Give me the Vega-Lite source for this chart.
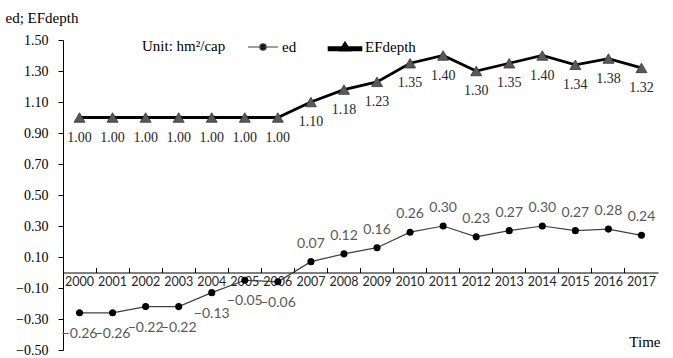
{
  "$schema": "https://vega.github.io/schema/vega-lite/v6.json",
  "width": 595,
  "height": 310,
  "autosize": {"type": "none"},
  "padding": {"left": 63, "top": 40, "right": 15, "bottom": 8},
  "background": "white",
  "config": {"view": {"stroke": null}},
  "data": {"values": [
    {"year": "2000", "series": "ed", "value": -0.26},
    {"year": "2001", "series": "ed", "value": -0.26},
    {"year": "2002", "series": "ed", "value": -0.22},
    {"year": "2003", "series": "ed", "value": -0.22},
    {"year": "2004", "series": "ed", "value": -0.13},
    {"year": "2005", "series": "ed", "value": -0.05},
    {"year": "2006", "series": "ed", "value": -0.06},
    {"year": "2007", "series": "ed", "value": 0.07},
    {"year": "2008", "series": "ed", "value": 0.12},
    {"year": "2009", "series": "ed", "value": 0.16},
    {"year": "2010", "series": "ed", "value": 0.26},
    {"year": "2011", "series": "ed", "value": 0.30},
    {"year": "2012", "series": "ed", "value": 0.23},
    {"year": "2013", "series": "ed", "value": 0.27},
    {"year": "2014", "series": "ed", "value": 0.30},
    {"year": "2015", "series": "ed", "value": 0.27},
    {"year": "2016", "series": "ed", "value": 0.28},
    {"year": "2017", "series": "ed", "value": 0.24},
    {"year": "2000", "series": "EFdepth", "value": 1.00},
    {"year": "2001", "series": "EFdepth", "value": 1.00},
    {"year": "2002", "series": "EFdepth", "value": 1.00},
    {"year": "2003", "series": "EFdepth", "value": 1.00},
    {"year": "2004", "series": "EFdepth", "value": 1.00},
    {"year": "2005", "series": "EFdepth", "value": 1.00},
    {"year": "2006", "series": "EFdepth", "value": 1.00},
    {"year": "2007", "series": "EFdepth", "value": 1.10},
    {"year": "2008", "series": "EFdepth", "value": 1.18},
    {"year": "2009", "series": "EFdepth", "value": 1.23},
    {"year": "2010", "series": "EFdepth", "value": 1.35},
    {"year": "2011", "series": "EFdepth", "value": 1.40},
    {"year": "2012", "series": "EFdepth", "value": 1.30},
    {"year": "2013", "series": "EFdepth", "value": 1.35},
    {"year": "2014", "series": "EFdepth", "value": 1.40},
    {"year": "2015", "series": "EFdepth", "value": 1.34},
    {"year": "2016", "series": "EFdepth", "value": 1.38},
    {"year": "2017", "series": "EFdepth", "value": 1.32}
  ]},
  "encoding": {
    "x": {
      "field": "year", "type": "ordinal",
      "scale": {"type": "band", "paddingInner": 0, "paddingOuter": 0},
      "axis": {
        "title": "Time", "titleFont": "Liberation Serif", "titleFontSize": 15, "titleFontWeight": "normal", "titleColor": "#000",
        "titleX": 597, "titleY": 69, "titleAlign": "right", "titleBaseline": "middle", "titleAnchor": null,
        "offset": -77.5, "bandPosition": 0, "tickExtra": true, "tickSize": -5, "tickColor": "#000", "domainColor": "#000",
        "labelAngle": 0, "labelFont": "Lato", "labelFontSize": 12.5, "labelColor": "#262626", "labelPadding": 8,
        "labelAlign": "center", "labelBaseline": "top", "labelFlush": false, "labelOverlap": false, "grid": false
      }
    },
    "y": {
      "field": "value", "type": "quantitative",
      "scale": {"domain": [-0.5, 1.5], "nice": false, "zero": false},
      "axis": {
        "values": [-0.5, -0.3, -0.1, 0.1, 0.3, 0.5, 0.7, 0.9, 1.1, 1.3, 1.5],
        "format": ".2f", "grid": false, "tickSize": 5, "tickColor": "#000", "domainColor": "#000",
        "labelFont": "Liberation Serif", "labelFontSize": 14, "labelColor": "#000", "labelPadding": 10,
        "title": "ed; EFdepth", "titleAngle": 0, "titleAlign": "left", "titleBaseline": "middle",
        "titleX": -58, "titleY": -23, "titleFont": "Liberation Serif", "titleFontSize": 15,
        "titleFontWeight": "normal", "titleColor": "#000"
      }
    }
  },
  "layer": [
    {
      "mark": {"type": "line"},
      "encoding": {
        "color": {
          "field": "series", "type": "nominal",
          "scale": {"domain": ["ed", "EFdepth"], "range": ["#404040", "#000000"]},
          "legend": {
            "orient": "none", "legendX": 79, "legendY": -4, "direction": "horizontal",
            "title": "Unit: hm²/cap", "titleOrient": "left", "titleFont": "Liberation Serif", "titleFontSize": 15,
            "titleFontWeight": "normal", "titleColor": "#000", "titlePadding": 27, "titleBaseline": "middle",
            "labelFont": "Liberation Serif", "labelFontSize": 15, "labelColor": "#000", "labelOffset": 9,
            "symbolSize": 350, "columnPadding": 26,
            "encode": {
              "symbols": {
                "update": {
                  "shape": {"signal": "datum.value === 'ed' ? 'M-1.6,0H1.6M0.33,0A0.33,0.33,0,1,1,-0.33,0A0.33,0.33,0,1,1,0.33,0' : 'M-1.7,0.27H1.7V0.05H-1.7ZM-0.45,0.3L0,-0.42L0.45,0.3Z'"},
                  "fill": {"signal": "datum.value === 'ed' ? '#000' : '#4a4a4a'"},
                  "stroke": {"signal": "datum.value === 'ed' ? '#000' : '#000'"},
                  "strokeWidth": {"signal": "datum.value === 'ed' ? 1.2 : 0.6"}
                }
              }
            }
          }
        },
        "strokeWidth": {
          "field": "series", "type": "nominal",
          "scale": {"domain": ["ed", "EFdepth"], "range": [1.2, 2.8]},
          "legend": null
        }
      }
    },
    {
      "transform": [{"filter": "datum.series === 'ed'"}],
      "mark": {"type": "circle", "size": 50, "color": "#000", "opacity": 1}
    },
    {
      "transform": [{"filter": "datum.series === 'EFdepth'"}],
      "mark": {"type": "point", "shape": "triangle-up", "size": 120, "filled": true, "fill": "#595959", "stroke": "#333", "strokeWidth": 0.8, "opacity": 1}
    },
    {
      "transform": [{"filter": "datum.series === 'EFdepth'"}],
      "mark": {"type": "text", "dy": 20, "font": "Liberation Serif", "fontSize": 14, "color": "#262626"},
      "encoding": {"text": {"field": "value", "type": "quantitative", "format": ".2f"}}
    },
    {
      "transform": [{"filter": "datum.series === 'ed' && datum.value >= 0"}],
      "mark": {"type": "text", "dy": -18, "font": "Lato", "fontSize": 14, "color": "#595959"},
      "encoding": {"text": {"field": "value", "type": "quantitative", "format": ".2f"}}
    },
    {
      "transform": [{"filter": "datum.series === 'ed' && datum.value < 0"}],
      "mark": {"type": "text", "dy": 21, "font": "Lato", "fontSize": 14, "color": "#595959"},
      "encoding": {"text": {"field": "value", "type": "quantitative", "format": ".2f"}}
    }
  ]
}
